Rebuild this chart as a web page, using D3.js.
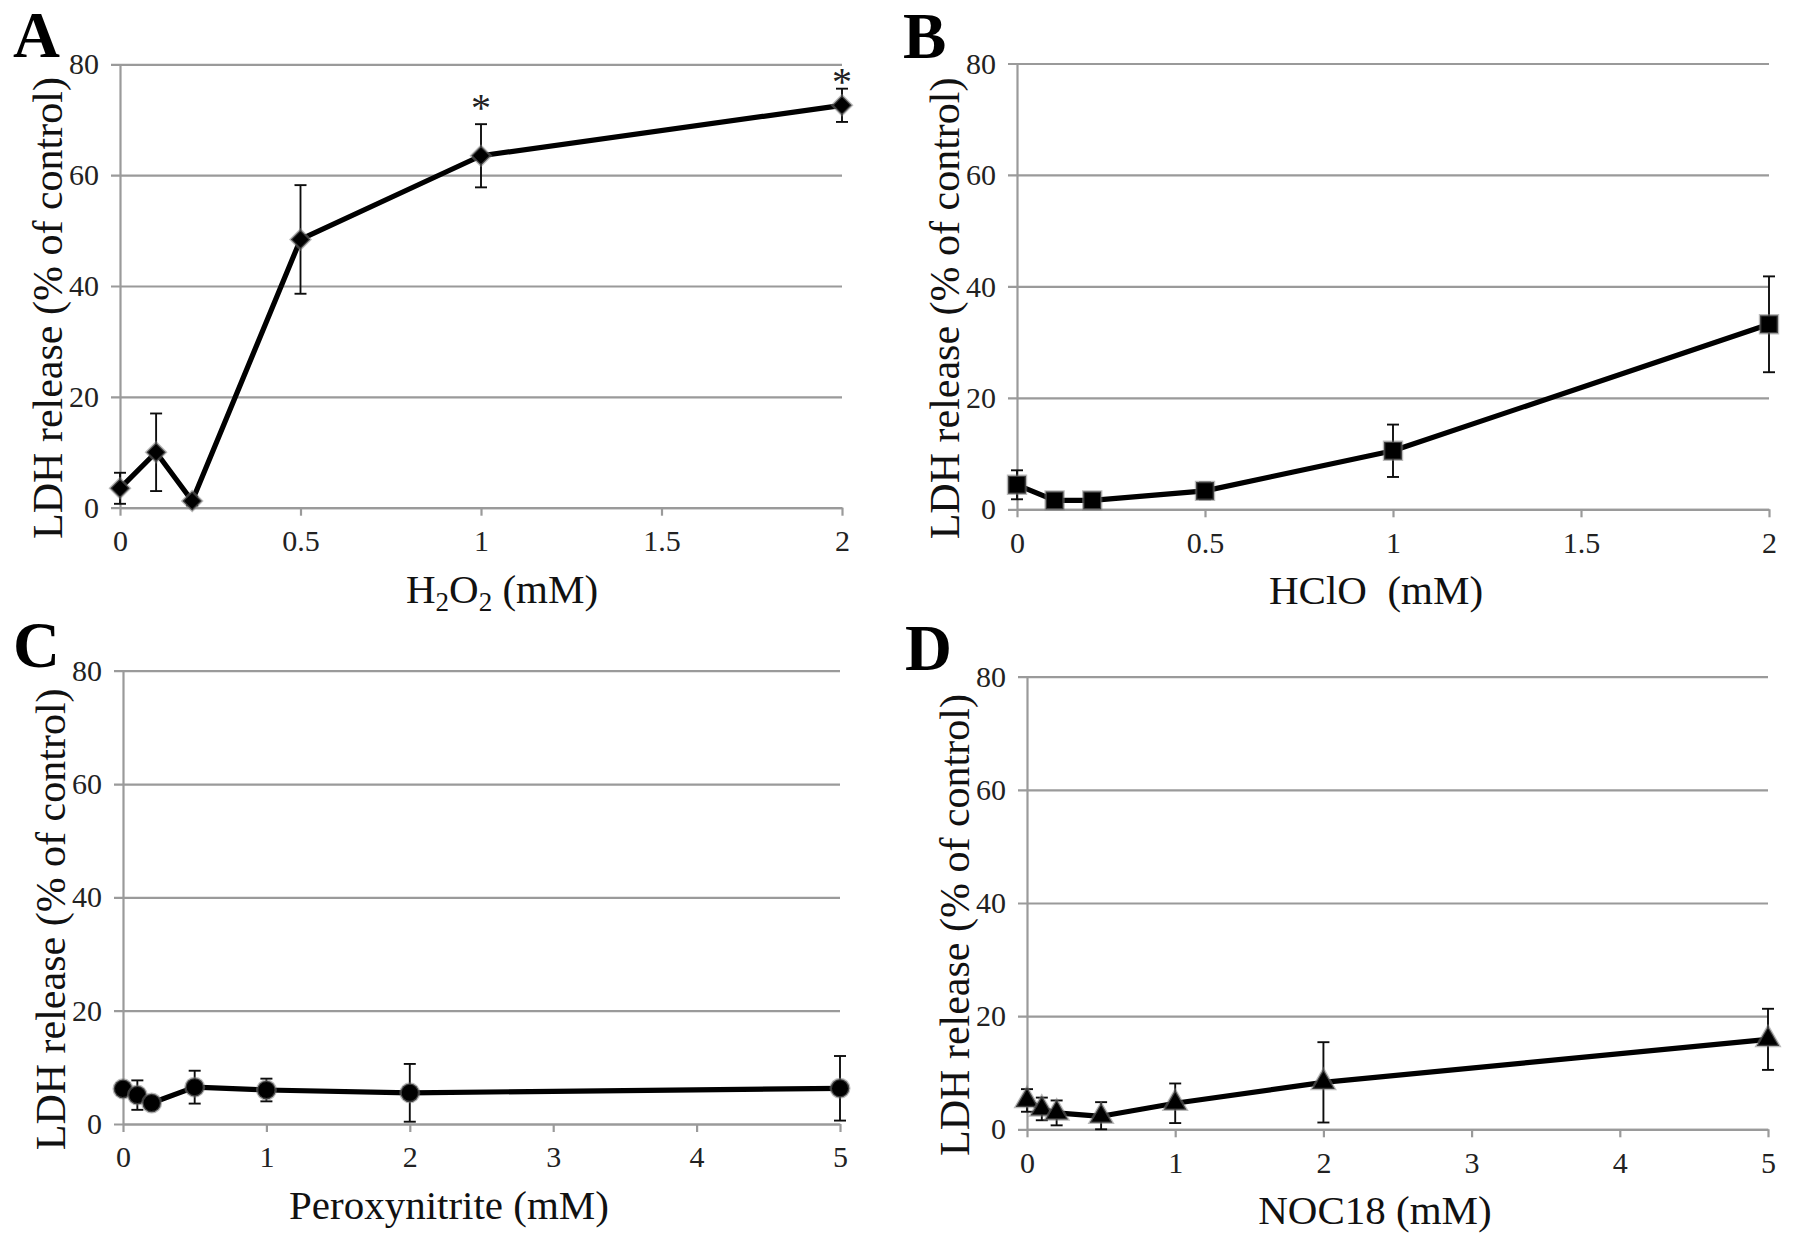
<!DOCTYPE html>
<html>
<head>
<meta charset="utf-8">
<script src="https://cdn.jsdelivr.net/npm/d3@7"></script>
<style>
  html, body { margin: 0; padding: 0; background: #fff; }
  svg { display: block; }
  text { font-family: "Liberation Serif", "Times New Roman", serif; }
</style>
</head>
<body>
<svg id="chart" width="1795" height="1243"></svg>
<script>
// ---------- DATA ----------
const yTicks = [0, 20, 40, 60, 80];
const xTicksAB = [0, 0.5, 1, 1.5, 2];
const xTickLabelsAB = ["0", "0.5", "1", "1.5", "2"];
const xTicksCD = [0, 1, 2, 3, 4, 5];
const xTickLabelsCD = ["0", "1", "2", "3", "4", "5"];

// A: H2O2
const doseA = [0, 0.1, 0.2, 0.5, 1, 2];
const meanA = [3.5, 10.0, 1.2, 48.4, 63.5, 72.6];
const errA  = [2.8, 7.0, 0.8, 9.8, 5.7, 3.0];
const sigDoseA = [1, 2];
const sigLevelA = [73.0, 77.7];

// B: HClO
const doseB = [0, 0.1, 0.2, 0.5, 1, 2];
const meanB = [4.4, 1.6, 1.6, 3.3, 10.5, 33.2];
const errB  = [2.6, 1.0, 1.0, 1.5, 4.7, 8.6];

// C: Peroxynitrite
const doseC = [0, 0.1, 0.2, 0.5, 1, 2, 5];
const meanC = [6.2, 5.1, 3.7, 6.5, 6.0, 5.5, 6.3];
const errC  = [1.0, 2.6, 0.8, 2.9, 2.0, 5.1, 5.7];

// D: NOC18
const doseD = [0, 0.1, 0.2, 0.5, 1, 2, 5];
const meanD = [5.1, 3.6, 2.9, 2.3, 4.6, 8.3, 15.9];
const errD  = [2.0, 2.0, 2.2, 2.5, 3.5, 7.1, 5.4];

const yTitle = "LDH release (% of control)";

// ---------- LAYOUT ----------
const svg = d3.select("#chart");
svg.append("rect").attr("width", 1795).attr("height", 1243).attr("fill", "#fff");

const defs = svg.append("defs");
defs.append("filter").attr("id", "soft").attr("x", "-5%").attr("y", "-5%").attr("width", "110%").attr("height", "110%")
  .append("feGaussianBlur").attr("stdDeviation", 0.6);

const gridColor = "#9a9a9a";

const panels = [
  { letter: "A", dose: doseA, mean: meanA, err: errA, sym: "diamond",
    xDomain: [0, 2], xTicks: xTicksAB, xLabels: xTickLabelsAB,
    left: 120, right: 842, top: 64.3, bottom: 507.7, lx: 13, ly: 57, tx: 502,
    title: "h2o2", sigDose: sigDoseA, sigLevel: sigLevelA },
  { letter: "B", dose: doseB, mean: meanB, err: errB, sym: "square",
    xDomain: [0, 2], xTicks: xTicksAB, xLabels: xTickLabelsAB,
    left: 1017, right: 1769, top: 63.5, bottom: 509.3, lx: 903, ly: 58, tx: 1376,
    title: "HClO  (mM)" },
  { letter: "C", dose: doseC, mean: meanC, err: errC, sym: "circle",
    xDomain: [0, 5], xTicks: xTicksCD, xLabels: xTickLabelsCD,
    left: 123, right: 840, top: 670.7, bottom: 1124, lx: 13, ly: 667, tx: 449,
    title: "Peroxynitrite (mM)" },
  { letter: "D", dose: doseD, mean: meanD, err: errD, sym: "triangle",
    xDomain: [0, 5], xTicks: xTicksCD, xLabels: xTickLabelsCD,
    left: 1027, right: 1768, top: 676.7, bottom: 1129.3, lx: 905, ly: 670, tx: 1375,
    title: "NOC18 (mM)" }
];

const symbols = {
  diamond: d3.symbol().type(d3.symbolSquare).size(190),
  square: d3.symbol().type(d3.symbolSquare).size(320),
  circle: d3.symbol().type(d3.symbolCircle).size(270),
  triangle: d3.symbol().type(d3.symbolTriangle).size(225)
};

panels.forEach(p => {
  const x = d3.scaleLinear().domain(p.xDomain).range([p.left, p.right]);
  const y = d3.scaleLinear().domain([0, 80]).range([p.bottom, p.top]);
  const w = p.right - p.left;

  // Y axis with gridlines
  const gy = svg.append("g").attr("transform", `translate(${p.left},0)`)
    .call(d3.axisLeft(y).tickValues(yTicks).tickSizeInner(-w).tickSizeOuter(0).tickPadding(21).tickFormat(d3.format("d")));
  gy.select(".domain").attr("stroke", gridColor).attr("stroke-width", 2.2);
  gy.selectAll(".tick line").attr("x1", -9).attr("x2", w).attr("stroke", gridColor).attr("stroke-width", 2.2);
  gy.selectAll(".tick text").attr("font-size", 30).attr("fill", "#222")
    .attr("font-family", "'Liberation Serif', 'Times New Roman', serif");

  // X axis
  const gx = svg.append("g").attr("transform", `translate(0,${p.bottom})`)
    .call(d3.axisBottom(x).tickValues(p.xTicks).tickSizeInner(8).tickSizeOuter(0).tickPadding(14)
      .tickFormat((d, i) => p.xLabels[i]));
  gx.select(".domain").attr("stroke", gridColor).attr("stroke-width", 2.2);
  gx.selectAll(".tick line").attr("stroke", gridColor).attr("stroke-width", 2.2);
  gx.selectAll(".tick text").attr("font-size", 30).attr("fill", "#222")
    .attr("font-family", "'Liberation Serif', 'Times New Roman', serif");

  const data = p.dose.map((d, i) => ({ x: d, m: p.mean[i], e: p.err[i] }));

  const series = svg.append("g").attr("filter", "url(#soft)");

  // Error bars
  const eb = series.append("g").attr("stroke", "#111").attr("stroke-width", 1.9).attr("fill", "none");
  data.forEach(d => {
    const cx = x(d.x);
    const y1 = y(d.m + d.e), y2 = y(Math.max(0, d.m - d.e));
    eb.append("line").attr("x1", cx).attr("x2", cx).attr("y1", y1).attr("y2", y2);
    eb.append("line").attr("x1", cx - 6).attr("x2", cx + 6).attr("y1", y1).attr("y2", y1);
    eb.append("line").attr("x1", cx - 6).attr("x2", cx + 6).attr("y1", y2).attr("y2", y2);
  });

  // Line
  series.append("path").datum(data)
    .attr("fill", "none").attr("stroke", "#000").attr("stroke-width", 5.2)
    .attr("stroke-linejoin", "round")
    .attr("d", d3.line().x(d => x(d.x)).y(d => y(d.m)));

  // Markers
  series.selectAll("path.mk").data(data).enter().append("path")
    .attr("class", "mk")
    .attr("d", symbols[p.sym])
    .attr("transform", d => `translate(${x(d.x)},${y(d.m)})` + (p.sym === "diamond" ? " rotate(45)" : ""))
    .attr("fill", "#000").attr("stroke", "#777").attr("stroke-width", 2.5).attr("stroke-opacity", 0.5);

  // Significance asterisks
  if (p.sigDose) {
    p.sigDose.forEach((sd, i) => {
      svg.append("text").attr("x", x(sd)).attr("y", y(p.sigLevel[i]))
        .attr("dy", "0.46em").attr("text-anchor", "middle")
        .attr("font-size", 40).attr("fill", "#222").text("*");
    });
  }

  // Panel letter
  svg.append("text").attr("x", p.lx).attr("y", p.ly)
    .attr("font-size", 65).attr("font-weight", "bold").attr("fill", "#000").text(p.letter);

  // Y title
  svg.append("text")
    .attr("transform", `translate(${p.left - 58},${(p.top + p.bottom) / 2 + 22}) rotate(-90)`)
    .attr("text-anchor", "middle").attr("font-size", 42).attr("fill", "#111").text(yTitle);

  // X title
  const xt = svg.append("text").attr("x", p.tx).attr("y", p.bottom + 95)
    .attr("text-anchor", "middle").attr("font-size", 41).attr("fill", "#111")
    .style("white-space", "pre");
  if (p.title === "h2o2") {
    xt.append("tspan").text("H");
    xt.append("tspan").attr("font-size", 27).attr("dy", 8).text("2");
    xt.append("tspan").attr("dy", -8).text("O");
    xt.append("tspan").attr("font-size", 27).attr("dy", 8).text("2");
    xt.append("tspan").attr("dy", -8).text(" (mM)");
  } else {
    xt.text(p.title);
  }
});
</script>
</body>
</html>
